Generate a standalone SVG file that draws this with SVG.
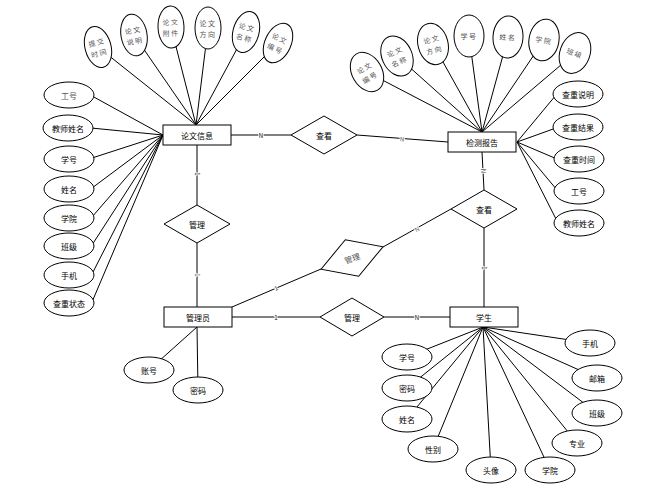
<svg xmlns="http://www.w3.org/2000/svg" width="666" height="499" viewBox="0 0 666 499">
<style>
.e{fill:#fff;stroke:#000;stroke-width:1}
.r{fill:#fff;stroke:#000;stroke-width:1}
.c line{stroke:#000;stroke-width:1}
text{font-family:"Noto Sans CJK SC","Noto Sans",sans-serif;font-size:8px;text-anchor:middle;dominant-baseline:central;fill:#000}
.g{fill:#555}
.s{font-size:7px;letter-spacing:1.5px}
.k{font-size:6px;stroke:#fff;stroke-width:2px;paint-order:stroke}
</style>
<rect width="666" height="499" fill="#fff"/>
<g id="connectors" class="c">
<!-- 论文信息 top attrs -->
<line x1="196" y1="125" x2="98" y2="47"/>
<line x1="196" y1="125" x2="134" y2="35"/>
<line x1="196" y1="125" x2="171" y2="27"/>
<line x1="196" y1="125" x2="208" y2="28"/>
<line x1="196" y1="125" x2="246" y2="32"/>
<line x1="196" y1="125" x2="278" y2="43"/>
<!-- 论文信息 left attrs -->
<line x1="163" y1="135" x2="92" y2="96"/>
<line x1="163" y1="135" x2="91" y2="128"/>
<line x1="163" y1="135" x2="92" y2="158"/>
<line x1="163" y1="135" x2="92" y2="188"/>
<line x1="163" y1="135" x2="92" y2="217"/>
<line x1="163" y1="135" x2="92" y2="245"/>
<line x1="163" y1="135" x2="92" y2="274"/>
<line x1="163" y1="135" x2="92" y2="302"/>
<!-- 检测报告 top attrs -->
<line x1="482" y1="132" x2="367" y2="72"/>
<line x1="482" y1="132" x2="397" y2="56"/>
<line x1="482" y1="132" x2="433" y2="44"/>
<line x1="482" y1="132" x2="469" y2="36"/>
<line x1="482" y1="132" x2="508" y2="37"/>
<line x1="482" y1="132" x2="544" y2="40"/>
<line x1="482" y1="132" x2="575" y2="53"/>
<!-- 检测报告 right attrs -->
<line x1="517" y1="142" x2="556" y2="95"/>
<line x1="517" y1="142" x2="556" y2="128"/>
<line x1="517" y1="142" x2="557" y2="159"/>
<line x1="517" y1="142" x2="557" y2="190"/>
<line x1="517" y1="142" x2="557" y2="221"/>
<!-- 管理员 attrs -->
<line x1="197" y1="327" x2="149" y2="370"/>
<line x1="197" y1="327" x2="198" y2="390"/>
<!-- 学生 attrs -->
<line x1="483" y1="327" x2="407" y2="357"/>
<line x1="483" y1="327" x2="407" y2="388"/>
<line x1="483" y1="327" x2="407" y2="419"/>
<line x1="483" y1="327" x2="433" y2="449"/>
<line x1="483" y1="327" x2="491" y2="470"/>
<line x1="483" y1="327" x2="550" y2="470"/>
<line x1="483" y1="327" x2="577" y2="443"/>
<line x1="483" y1="327" x2="597" y2="413"/>
<line x1="483" y1="327" x2="597" y2="378"/>
<line x1="483" y1="327" x2="590" y2="343"/>
<!-- relationships -->
<line x1="231" y1="135" x2="291" y2="135"/>
<line x1="357" y1="135" x2="448" y2="142"/>
<line x1="197" y1="145" x2="197" y2="205"/>
<line x1="197" y1="243" x2="197" y2="307"/>
<line x1="232" y1="307" x2="321" y2="269"/>
<line x1="383" y1="247" x2="451" y2="209"/>
<line x1="482" y1="152" x2="484" y2="190"/>
<line x1="484" y1="228" x2="484" y2="307"/>
<line x1="232" y1="317" x2="320" y2="317"/>
<line x1="384" y1="317" x2="450" y2="317"/>
<text class="k" x="261" y="135">N</text>
<text class="k g" x="402" y="139" transform="rotate(4.5 402 139)">N</text>
<text class="k" x="197" y="174" transform="rotate(90 197 174)">1</text>
<text class="k g" x="197" y="275" transform="rotate(90 197 275)">1</text>
<text class="k" x="276" y="288" transform="rotate(-23 276 288)">1</text>
<text class="k g" x="417" y="229" transform="rotate(-29 417 229)">N</text>
<text class="k g" x="483" y="171" transform="rotate(90 483 171)">N</text>
<text class="k" x="484" y="268" transform="rotate(90 484 268)">1</text>
<text class="k" x="276" y="317">1</text>
<text class="k" x="417" y="317">N</text>
</g>
<g id="lunwen"><rect class="r" x="163" y="125" width="68" height="20"/><text x="197" y="135">论文信息</text></g>
<g id="jiance"><rect class="r" x="448" y="132" width="68" height="20"/><text x="482" y="142">检测报告</text></g>
<g id="admin"><rect class="r" x="164" y="307" width="68" height="20"/><text x="198" y="317">管理员</text></g>
<g id="student"><rect class="r" x="450" y="307" width="68" height="20"/><text x="484" y="317">学生</text></g>
<g id="rel_chakan1"><polygon class="r" points="291,135 324,116 357,135 324,154"/><text x="324" y="135">查看</text></g>
<g id="rel_guanli1"><polygon class="r" points="164,224 197,205 230,224 197,243"/><text x="197" y="224">管理</text></g>
<g id="rel_chakan2"><polygon class="r" points="451,209 484,190 517,209 484,228"/><text x="484" y="209">查看</text></g>
<g id="rel_guanli2" transform="translate(352 258) rotate(-20)"><polygon class="r" points="-33,0 0,-19.5 33,0 0,19.5"/><text class="g" x="0" y="0">管理</text></g>
<g id="rel_guanli3"><polygon class="r" points="320,317 352,298 384,317 352,336"/><text x="352" y="317">管理</text></g>
<!-- 论文信息 top attributes -->
<g id="a_tjsj" transform="translate(98 47) rotate(-15)"><ellipse class="e" rx="13" ry="21"/><text class="g s" y="-5">提交</text><text class="g s" y="6">时间</text></g>
<g id="a_lwsm" transform="translate(134 35) rotate(-10)"><ellipse class="e" rx="13" ry="21"/><text class="g s" y="-5">论文</text><text class="g s" y="6">说明</text></g>
<g id="a_lwfj" transform="translate(171 27) rotate(-2)"><ellipse class="e" rx="13" ry="21"/><text class="g s" y="-5">论文</text><text class="g s" y="6">附件</text></g>
<g id="a_lwfx" transform="translate(208 28)"><ellipse class="e" rx="13" ry="21"/><text class="g s" y="-5">论文</text><text class="g s" y="6">方向</text></g>
<g id="a_lwmc" transform="translate(246 32) rotate(15)"><ellipse class="e" rx="13" ry="21"/><text class="g s" y="-5">论文</text><text class="g s" y="6">名称</text></g>
<g id="a_lwbh" transform="translate(278 43) rotate(25)"><ellipse class="e" rx="13" ry="21"/><text class="g s" y="-5">论文</text><text class="g s" y="6">编号</text></g>
<!-- 论文信息 left attributes -->
<g id="a_gh1"><ellipse class="e" cx="69" cy="95" rx="25" ry="13"/><text class="g" x="69" y="95">工号</text></g>
<g id="a_jsxm1"><ellipse class="e" cx="68" cy="128" rx="25" ry="13"/><text x="68" y="128">教师姓名</text></g>
<g id="a_xh1"><ellipse class="e" cx="69" cy="159" rx="25" ry="13"/><text x="69" y="159">学号</text></g>
<g id="a_xm1"><ellipse class="e" cx="69" cy="189" rx="25" ry="13"/><text x="69" y="189">姓名</text></g>
<g id="a_xy1"><ellipse class="e" cx="69" cy="218" rx="25" ry="13"/><text x="69" y="218">学院</text></g>
<g id="a_bj1"><ellipse class="e" cx="69" cy="246" rx="25" ry="13"/><text x="69" y="246">班级</text></g>
<g id="a_sj1"><ellipse class="e" cx="69" cy="275" rx="25" ry="13"/><text x="69" y="275">手机</text></g>
<g id="a_aczt"><ellipse class="e" cx="69" cy="303" rx="25" ry="13"/><text x="69" y="303">查重状态</text></g>
<!-- 检测报告 top attributes -->
<g id="a_lwbh2" transform="translate(367 72) rotate(-30)"><ellipse class="e" rx="15" ry="21"/><text class="g s" y="-5">论文</text><text class="g s" y="6">编号</text></g>
<g id="a_lwmc2" transform="translate(397 56) rotate(-25)"><ellipse class="e" rx="15" ry="21"/><text class="g s" y="-5">论文</text><text class="g s" y="6">名称</text></g>
<g id="a_lwfx2" transform="translate(433 44) rotate(-15)"><ellipse class="e" rx="15" ry="21"/><text class="g s" y="-5">论文</text><text class="g s" y="6">方向</text></g>
<g id="a_xh2" transform="translate(469 36)"><ellipse class="e" rx="15" ry="21"/><text class="g s">学号</text></g>
<g id="a_xm2" transform="translate(508 37) rotate(3)"><ellipse class="e" rx="15" ry="21"/><text class="g s">姓名</text></g>
<g id="a_xy2" transform="translate(544 40) rotate(10)"><ellipse class="e" rx="15" ry="21"/><text class="g s">学院</text></g>
<g id="a_bj2" transform="translate(575 53) rotate(20)"><ellipse class="e" rx="15" ry="21"/><text class="g s">班级</text></g>
<!-- 检测报告 right attributes -->
<g id="a_czsm"><ellipse class="e" cx="578" cy="94" rx="25" ry="13"/><text x="578" y="94">查重说明</text></g>
<g id="a_czjg"><ellipse class="e" cx="578" cy="127" rx="25" ry="13"/><text x="578" y="127">查重结果</text></g>
<g id="a_czsj"><ellipse class="e" cx="579" cy="159" rx="25" ry="13"/><text x="579" y="159">查重时间</text></g>
<g id="a_gh2"><ellipse class="e" cx="579" cy="191" rx="25" ry="13"/><text x="579" y="191">工号</text></g>
<g id="a_jsxm2"><ellipse class="e" cx="579" cy="223" rx="25" ry="13"/><text x="579" y="223">教师姓名</text></g>
<!-- 管理员 attributes -->
<g id="a_zh"><ellipse class="e" cx="149" cy="370" rx="25" ry="13"/><text x="149" y="370">账号</text></g>
<g id="a_mm1"><ellipse class="e" cx="198" cy="390" rx="25" ry="13"/><text x="198" y="390">密码</text></g>
<!-- 学生 attributes -->
<g id="a_xh3"><ellipse class="e" cx="407" cy="357" rx="25" ry="13"/><text x="407" y="357">学号</text></g>
<g id="a_mm2"><ellipse class="e" cx="407" cy="388" rx="25" ry="13"/><text x="407" y="388">密码</text></g>
<g id="a_xm3"><ellipse class="e" cx="407" cy="419" rx="25" ry="13"/><text x="407" y="419">姓名</text></g>
<g id="a_xb"><ellipse class="e" cx="433" cy="449" rx="25" ry="13"/><text x="433" y="449">性别</text></g>
<g id="a_tx"><ellipse class="e" cx="491" cy="470" rx="25" ry="13"/><text x="491" y="470">头像</text></g>
<g id="a_xy3"><ellipse class="e" cx="550" cy="470" rx="25" ry="13"/><text x="550" y="470">学院</text></g>
<g id="a_zy"><ellipse class="e" cx="577" cy="443" rx="25" ry="13"/><text x="577" y="443">专业</text></g>
<g id="a_bj3"><ellipse class="e" cx="597" cy="413" rx="25" ry="13"/><text x="597" y="413">班级</text></g>
<g id="a_yx"><ellipse class="e" cx="597" cy="378" rx="25" ry="13"/><text x="597" y="378">邮箱</text></g>
<g id="a_sj3"><ellipse class="e" cx="590" cy="343" rx="25" ry="13"/><text x="590" y="343">手机</text></g>
</svg>
